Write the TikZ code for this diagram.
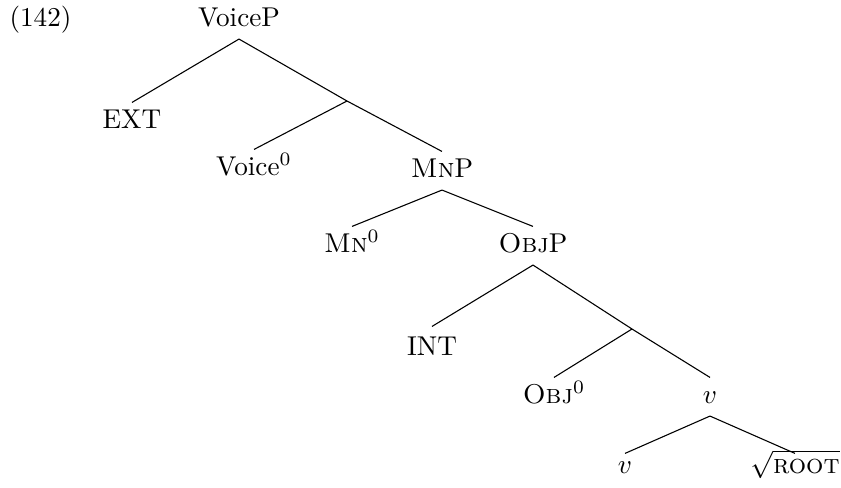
\documentclass[tikz,border=0pt]{standalone}
\begin{document}
\begin{tikzpicture}[
  x=0.3676pt, y=-0.3676pt,
  cat/.style={anchor=base, inner sep=0pt, text height=9.2pt, text depth=4.6pt},
  low/.style={cat, text height=7pt},
  branch/.style={line width=0.4pt}
]
\useasboundingbox (0,0) rectangle (841,488);

% example number
\node[anchor=base west, inner sep=0pt] (num) at (9,26) {(142)};

% labelled nodes (positions are baselines)
\node[cat] (voiceP) at (239,26) {VoiceP};
\node[cat] (ext)    at (132,128) {EXT};
\coordinate (vbar) at (347,101);
\node[cat] (voice0) at (254,175) {Voice$^0$};
\node[cat] (mnP)    at (442,177) {\textsc{Mn}P};
\node[cat] (mn0)    at (352,252) {\textsc{Mn}$^0$};
\node[cat] (objP)   at (533,252) {\textsc{Obj}P};
\node[cat, text height=10.3pt] (int) at (432,355) {INT};
\coordinate (obar) at (632,329);
\node[cat] (obj0)   at (554,403) {\textsc{Obj}$^0$};
\node[cat] (vP)     at (710,403) {$v$};
\node[low] (vhead)  at (625,473) {$v$};
\node[low] (root)   at (795,473) {$\sqrt{\textsc{root}}$};

% branches
\draw[branch] (voiceP.south) -- (ext.north);
\draw[branch] (voiceP.south) -- (vbar);
\draw[branch] (vbar) -- (mnP.north);
\draw[branch] (vbar) -- (voice0.north);
\draw[branch] (mnP.south) -- (mn0.north);
\draw[branch] (mnP.south) -- (objP.north);
\draw[branch] (objP.south) -- (int.north);
\draw[branch] (objP.south) -- (obar);
\draw[branch] (obar) -- (obj0.north);
\draw[branch] (obar) -- (vP.north);
\draw[branch] (vP.south) -- (vhead.north);
\draw[branch] (vP.south) -- (root.north);
\end{tikzpicture}
\end{document}
